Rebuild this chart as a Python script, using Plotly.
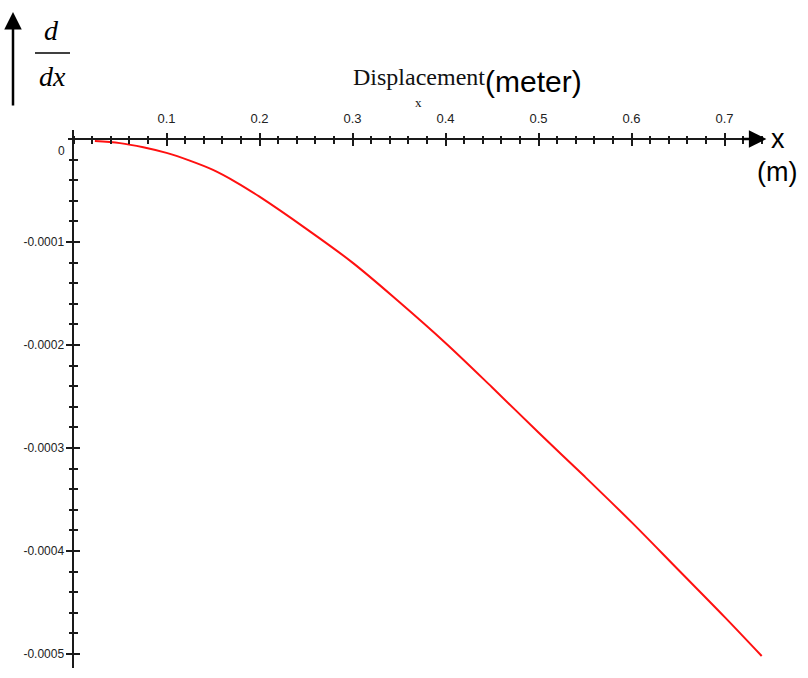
import plotly.graph_objects as go

# Slope of the deflected beam along its length
x_m = [0.023, 0.05, 0.075, 0.1, 0.125, 0.15, 0.175, 0.2, 0.25, 0.3, 0.35, 0.4,
       0.45, 0.5, 0.55, 0.6, 0.65, 0.7, 0.74]
slope_e4 = [-0.02, -0.04, -0.08, -0.135, -0.21, -0.30, -0.42, -0.56, -0.87, -1.20,
            -1.58, -1.98, -2.41, -2.85, -3.28, -3.72, -4.18, -4.64, -5.02]
slope = [v * 1e-4 for v in slope_e4]

x_tick_vals = [0.1, 0.2, 0.3, 0.4, 0.5, 0.6, 0.7]
x_tick_text = ["0.1", "0.2", "0.3", "0.4", "0.5", "0.6", "0.7"]
y_tick_vals = [-0.0005, -0.0004, -0.0003, -0.0002, -0.0001]
y_tick_text = ["-0.0005", "-0.0004", "-0.0003", "-0.0002", "-0.0001"]

W, H = 808, 678
L, R, T, B = 60, 775, 130, 668          # plot area in pixels
X_RANGE = [-0.014516, 0.754301]
Y_RANGE = [-5.1359e-4, 8.738e-6]


def px(xp):
    return (xp - L) / (R - L)


def py(yp):
    return (B - yp) / (B - T)


# paper positions of the zero lines
x0_pos = (0 - X_RANGE[0]) / (X_RANGE[1] - X_RANGE[0])
y0_pos = (0 - Y_RANGE[0]) / (Y_RANGE[1] - Y_RANGE[0])

AX = "#1a1a1a"
FAMILY = "Liberation Sans Narrow, Arial Narrow, Liberation Sans, Arial"
XTICKFONT = dict(family=FAMILY, size=13, color="#222")
YTICKFONT = dict(family=FAMILY, size=12, color="#222")

fig = go.Figure()
fig.add_trace(go.Scatter(x=x_m, y=slope, mode="lines",
                         line=dict(color="#ff1010", width=2, shape="spline"),
                         hoverinfo="skip", showlegend=False))
# invisible trace to activate the overlay axes used for the crossing ticks
fig.add_trace(go.Scatter(x=[None], y=[None], xaxis="x2", yaxis="y2",
                         showlegend=False, hoverinfo="skip"))

common_x = dict(range=X_RANGE, showgrid=False, zeroline=False, showline=False,
                anchor="free", position=y0_pos, side="top")
common_y = dict(range=Y_RANGE, showgrid=False, zeroline=False,
                anchor="free", position=x0_pos, side="left")

fig.update_layout(
    width=W, height=H,
    margin=dict(l=L, r=W - R, t=T, b=H - B, pad=0),
    paper_bgcolor="white", plot_bgcolor="white",
    xaxis=dict(**common_x, tickmode="array", tickvals=x_tick_vals, ticktext=x_tick_text,
               ticks="outside", ticklen=6, tickwidth=1.5, tickcolor=AX,
               tickfont=XTICKFONT, ticklabelstandoff=5,
               minor=dict(tickmode="linear", tick0=0, dtick=0.02, ticks="outside",
                          ticklen=3.5, tickwidth=1.5, tickcolor=AX)),
    xaxis2=dict(**common_x, overlaying="x", tickmode="array", tickvals=x_tick_vals,
                ticks="inside", ticklen=6, tickwidth=1.5, tickcolor=AX,
                showticklabels=False,
                minor=dict(tickmode="linear", tick0=0, dtick=0.02, ticks="inside",
                           ticklen=3.5, tickwidth=1.5, tickcolor=AX)),
    yaxis=dict(**common_y, showline=True, linecolor=AX, linewidth=2,
               tickmode="array", tickvals=y_tick_vals, ticktext=y_tick_text,
               ticks="outside", ticklen=6, tickwidth=1.5, tickcolor=AX,
               tickfont=YTICKFONT,
               minor=dict(tickmode="linear", tick0=0, dtick=0.00002, ticks="outside",
                          ticklen=3.5, tickwidth=1.5, tickcolor=AX)),
    yaxis2=dict(**common_y, overlaying="y", showline=False,
                tickmode="array", tickvals=y_tick_vals,
                ticks="inside", ticklen=6, tickwidth=1.5, tickcolor=AX,
                showticklabels=False,
                minor=dict(tickmode="linear", tick0=0, dtick=0.00002, ticks="inside",
                           ticklen=3.5, tickwidth=1.5, tickcolor=AX)),
)

# horizontal axis line with arrow
fig.add_shape(type="line", xref="x", yref="y", x0=-0.0059, x1=0.722, y0=0, y1=0,
              line=dict(color=AX, width=2))
fig.add_annotation(x=0.745, y=0, xref="x", yref="y", ax=-26, ay=0, axref="pixel",
                   ayref="pixel", text="", showarrow=True, arrowhead=2, arrowsize=1.4,
                   arrowwidth=2.5, arrowcolor="black", standoff=0)

# vertical arrow beside the derivative symbol
fig.add_annotation(x=px(13), y=py(12), xref="paper", yref="paper", ax=0, ay=95,
                   text="", showarrow=True, arrowhead=2, arrowsize=1.4, arrowwidth=2.5,
                   arrowcolor="black", standoff=0)

# d/dx
serif_it = dict(family="Liberation Serif, Times New Roman, serif", size=28, color="black")
fig.add_annotation(x=px(51), y=py(30), xref="paper", yref="paper", text="<i>d</i>",
                   showarrow=False, font=serif_it, xanchor="center", yanchor="middle")
fig.add_annotation(x=px(52), y=py(76), xref="paper", yref="paper", text="<i>dx</i>",
                   showarrow=False, font=serif_it, xanchor="center", yanchor="middle")
fig.add_shape(type="line", xref="paper", yref="paper", x0=px(35), x1=px(70),
              y0=py(53), y1=py(53), line=dict(color="black", width=1.5))

# axis title
fig.add_annotation(x=px(351), y=py(77), xref="paper", yref="paper", text="Displacement",
                   showarrow=False, xanchor="left", yanchor="middle",
                   font=dict(family="Liberation Serif, Times New Roman, serif", size=24,
                             color="#111"))
fig.add_annotation(x=px(418), y=py(102), xref="paper", yref="paper", text="x",
                   showarrow=False, xanchor="center", yanchor="middle",
                   font=dict(family="Liberation Serif, Times New Roman, serif", size=13,
                             color="#111"))
fig.add_annotation(x=px(483), y=py(81), xref="paper", yref="paper", text="(meter)",
                   showarrow=False, xanchor="left", yanchor="middle",
                   font=dict(family="Liberation Sans, Arial, sans-serif", size=30,
                             color="black"))

# x (m) label at the arrow tip
big = dict(family="Liberation Sans, Arial, sans-serif", size=27, color="black")
fig.add_annotation(x=px(778), y=py(139), xref="paper", yref="paper", text="x",
                   showarrow=False, xanchor="center", yanchor="middle", font=big)
fig.add_annotation(x=px(777), y=py(172), xref="paper", yref="paper", text="(m)",
                   showarrow=False, xanchor="center", yanchor="middle", font=big)

# zero label set just below the horizontal axis
fig.add_annotation(x=0, y=0, xref="x", yref="y", text="0", showarrow=False,
                   xanchor="right", yanchor="middle", xshift=-7, yshift=-12,
                   font=YTICKFONT)

fig.write_html("out.html")
